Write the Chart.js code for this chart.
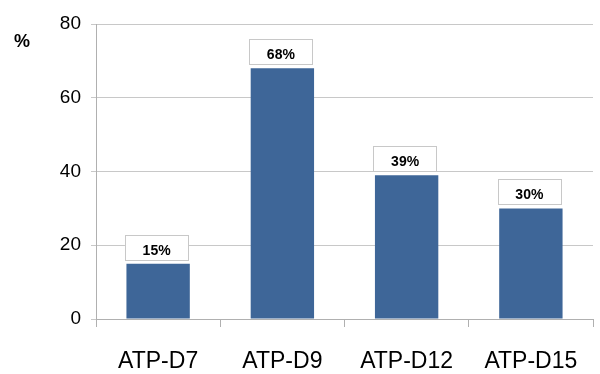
<!DOCTYPE html>
<html>
<head>
<meta charset="utf-8">
<script src="https://cdn.jsdelivr.net/npm/chart.js@4/dist/chart.umd.min.js"></script>
<style>
    html, body { margin: 0; padding: 0; background: #fff; }
    #wrap { width: 600px; height: 374px; }
</style>
</head>
<body>
<div id="wrap"><canvas id="chart" width="600" height="374"></canvas></div>
<script>
const categories = ['ATP-D7', 'ATP-D9', 'ATP-D12', 'ATP-D15'];
const values = [15, 68, 39, 30];
const yTicks = [0, 20, 40, 60, 80];

// boxed value labels above the bars
const valueBoxes = {
    id: 'valueBoxes',
    afterDatasetsDraw(chart) {
        const ctx = chart.ctx;
        const meta = chart.getDatasetMeta(0);
        ctx.save();
        meta.data.forEach((bar, i) => {
            const w = bar.width;
            const h = 25;
            const left = bar.x - w / 2 - 1.5;
            const bottom = bar.y - 4;
            ctx.fillStyle = '#ffffff';
            ctx.fillRect(left, bottom - h, w, h);
            ctx.strokeStyle = '#c8c8c8';
            ctx.lineWidth = 1;
            ctx.strokeRect(Math.round(left) + 0.5, Math.round(bottom - h) + 0.5, Math.round(w), h);
            ctx.fillStyle = '#000';
            ctx.font = 'bold 14px "Liberation Sans", Arial, sans-serif';
            ctx.textAlign = 'center';
            ctx.textBaseline = 'middle';
            ctx.fillText(values[i] + '%', left + w / 2, bottom - 9);
        });
        ctx.restore();
    }
};

// "%" unit label at top left
const unitLabel = {
    id: 'unitLabel',
    afterDraw(chart) {
        const ctx = chart.ctx;
        ctx.save();
        ctx.fillStyle = '#000';
        ctx.font = 'bold 18px "Liberation Sans", Arial, sans-serif';
        ctx.textAlign = 'center';
        ctx.textBaseline = 'middle';
        ctx.fillText('%', 22, 42);
        ctx.restore();
    }
};

new Chart(document.getElementById('chart'), {
    type: 'bar',
    data: {
        labels: categories,
        datasets: [{
            data: values,
            backgroundColor: '#3e6698',
            borderWidth: 0,
            barPercentage: 0.51,
            categoryPercentage: 1
        }]
    },
    options: {
        responsive: false,
        animation: false,
        layout: { padding: { top: 24, right: 7, left: 0, bottom: 0 } },
        plugins: {
            legend: { display: false },
            tooltip: { enabled: false }
        },
        scales: {
            x: {
                afterFit: scale => { scale.height = 55; },
                grid: {
                    offset: true,
                    drawOnChartArea: false,
                    drawTicks: true,
                    tickLength: 8,
                    color: '#b0b0b0'
                },
                border: { color: '#b0b0b0' },
                ticks: {
                    color: '#000',
                    padding: 21,
                    font: { family: '"Liberation Sans", Arial, sans-serif', size: 23 }
                }
            },
            y: {
                min: 0,
                max: 80,
                afterFit: scale => { scale.width = 96; },
                afterBuildTicks: scale => { scale.ticks = yTicks.map(v => ({ value: v })); },
                grid: {
                    color: '#c8c8c8',
                    tickLength: 5
                },
                border: { color: '#b0b0b0' },
                ticks: {
                    color: '#000',
                    padding: 10,
                    font: { family: '"Liberation Sans", Arial, sans-serif', size: 19 }
                }
            }
        }
    },
    plugins: [valueBoxes, unitLabel]
});
</script>
</body>
</html>
